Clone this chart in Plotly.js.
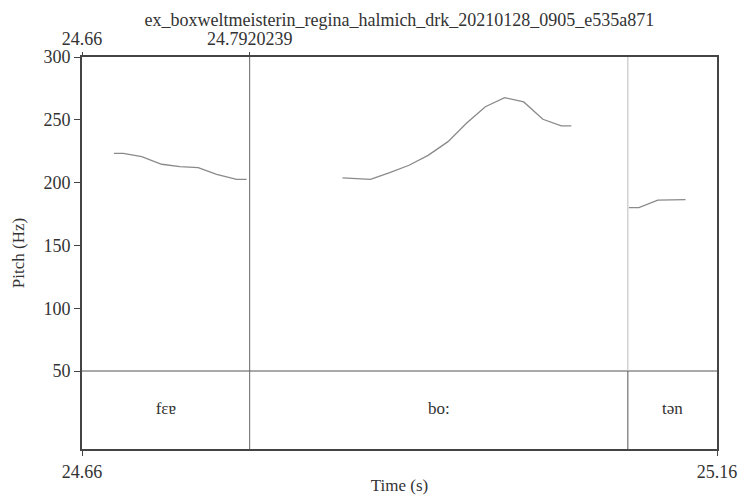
<!DOCTYPE html>
<html><head><meta charset="utf-8">
<script src="https://cdn.plot.ly/plotly-3.0.1.min.js"></script>
<style>html,body{margin:0;padding:0;background:#fff}</style>
</head><body><div id="chart" style="width:741px;height:495px"></div>
<script>
const chartTitle = "ex_boxweltmeisterin_regina_halmich_drk_20210128_0905_e535a871";
const timeRange = [24.66, 25.16];
// pitch contour, segment 1
const t1 = [24.6852, 24.6925, 24.7070, 24.7227, 24.7371, 24.7515, 24.7660, 24.7817, 24.7896];
const f1 = [223.3, 223.3, 220.6, 214.6, 212.7, 211.9, 206.6, 202.6, 202.6];
// segment 2
const t2 = [24.8651, 24.8735, 24.8871, 24.9023, 24.9175, 24.9325, 24.9482, 24.9627, 24.9776, 24.9928, 25.0078, 25.0229, 25.0374, 25.0453];
const f2 = [203.7, 203.4, 202.6, 207.9, 213.8, 221.7, 232.6, 247.2, 260.4, 267.6, 264.2, 250.4, 245.1, 245.1];
// segment 3
const t3 = [25.0906, 25.0985, 25.1134, 25.1252, 25.1352];
const f3 = [180.0, 180.0, 186.1, 186.4, 186.4];
// text grid tier
const boundaries = [24.7920239, 25.0898];
const intervalLabels = ["fɛɐ", "bo:", "tən"];
const yTicks = [50, 100, 150, 200, 250, 300];
const topTickVals = [24.66, 24.7920239];
const topTickText = ["24.66", "24.7920239"];
const bottomTickVals = [24.66, 25.16];
const bottomTickText = ["24.66", "25.16"];

const yMin = -12.1, yMax = 300, tierTop = 50;
const edges = [timeRange[0]].concat(boundaries, [timeRange[1]]);
const mids = intervalLabels.map((_, i) => (edges[i] + edges[i + 1]) / 2);

const FAM = 'Liberation Serif';
const lineStyle = {color: '#8a8a8a', width: 1.3};
const traces = [
  {x: t1, y: f1, mode: 'lines', line: lineStyle, hoverinfo: 'skip', showlegend: false},
  {x: t2, y: f2, mode: 'lines', line: lineStyle, hoverinfo: 'skip', showlegend: false},
  {x: t3, y: f3, mode: 'lines', line: lineStyle, hoverinfo: 'skip', showlegend: false},
  {x: mids, y: mids.map(() => (tierTop + yMin) / 2), mode: 'text', text: intervalLabels,
   textfont: {family: FAM, size: 17, color: '#333'}, hoverinfo: 'skip', showlegend: false},
  {x: topTickVals, y: [yMax, yMax], xaxis: 'x2', mode: 'markers', marker: {opacity: 0}, hoverinfo: 'skip', showlegend: false}
];

const shapes = [
  {type: 'line', xref: 'paper', x0: 0, x1: 1, yref: 'y', y0: tierTop, y1: tierTop, line: {color: '#555', width: 1}},
  {type: 'line', xref: 'x', x0: boundaries[0], x1: boundaries[0], yref: 'y', y0: yMin, y1: yMax, line: {color: '#666', width: 1}},
  {type: 'line', xref: 'x', x0: boundaries[1], x1: boundaries[1], yref: 'y', y0: tierTop, y1: yMax, line: {color: '#bbb', width: 1}},
  {type: 'line', xref: 'x', x0: boundaries[1], x1: boundaries[1], yref: 'y', y0: yMin, y1: tierTop, line: {color: '#555', width: 1}}
];

const font = {family: FAM, size: 18, color: '#333'};
const layout = {
  width: 741, height: 495,
  margin: {l: 82, r: 23.5, t: 57, b: 46},
  paper_bgcolor: '#fff', plot_bgcolor: '#fff',
  font: font,
  title: {text: chartTitle, font: {family: FAM, size: 18, color: '#333'}, x: 0.539, xanchor: 'center', y: 0.96, yanchor: 'middle'},
  xaxis: {range: timeRange, tickvals: bottomTickVals, ticktext: bottomTickText, ticks: 'outside', ticklen: 5, tickcolor: '#444',
          tickfont: font, showgrid: false, zeroline: false, showline: true, linecolor: '#444', linewidth: 2, mirror: true,
          title: {text: 'Time (s)', font: {family: FAM, size: 17, color: '#333'}, standoff: 0}},
  xaxis2: {range: timeRange, overlaying: 'x', side: 'top', tickvals: topTickVals, ticktext: topTickText, ticks: 'outside', ticklen: 4, tickcolor: '#444',
           tickfont: font, showgrid: false, zeroline: false, showline: false},
  yaxis: {range: [yMin, yMax], tickvals: yTicks, ticks: 'outside', ticklen: 6, tickcolor: '#444',
          tickfont: font, showgrid: false, zeroline: false, showline: true, linecolor: '#444', linewidth: 2, mirror: true,
          title: {text: 'Pitch (Hz)', font: {family: FAM, size: 17, color: '#333'}, standoff: 14}},
  shapes: shapes,
  hovermode: false
};
Plotly.newPlot('chart', traces, layout, {displayModeBar: false, staticPlot: true});
</script></body></html>
